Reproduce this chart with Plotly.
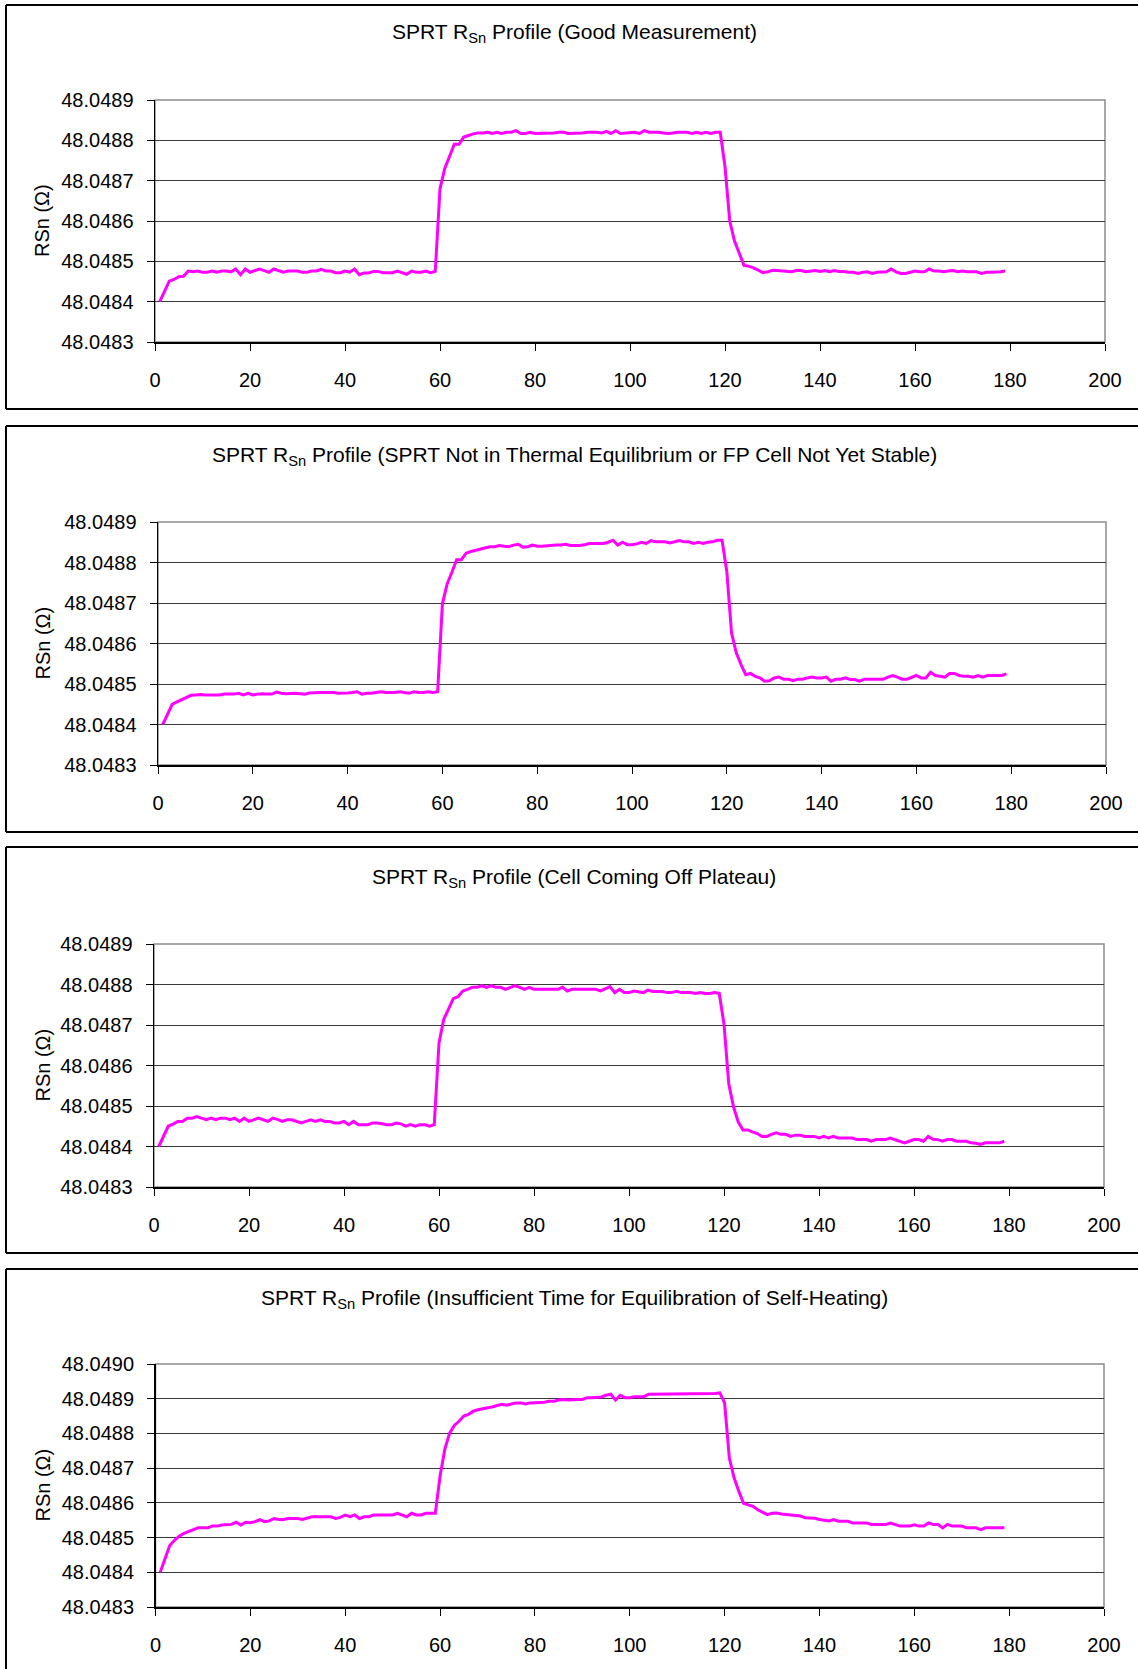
import plotly.graph_objects as go

W, H = 1138, 1669

# ---------------- data ----------------
time_index = list(range(1, 180))

titles = [
    "SPRT R<sub>Sn</sub> Profile (Good Measurement)",
    "SPRT R<sub>Sn</sub> Profile (SPRT Not in Thermal Equilibrium or FP Cell Not Yet Stable)",
    "SPRT R<sub>Sn</sub> Profile (Cell Coming Off Plateau)",
    "SPRT R<sub>Sn</sub> Profile (Insufficient Time for Equilibration of Self-Heating)",
]

y_label = "RSn (Ω)"

x_ticks = [0, 20, 40, 60, 80, 100, 120, 140, 160, 180, 200]
y_ticks_a = [48.0483, 48.0484, 48.0485, 48.0486, 48.0487, 48.0488, 48.0489]
y_ticks_b = [48.0483, 48.0484, 48.0485, 48.0486, 48.0487, 48.0488, 48.0489, 48.0490]

rsn_good = [
    48.048400, 48.048426, 48.048451, 48.048455, 48.048462, 48.048463, 48.048476, 48.048474, 48.048476, 48.048473,
    48.048473, 48.048476, 48.048473, 48.048476, 48.048476, 48.048474, 48.048481, 48.048467, 48.048481, 48.048473,
    48.048477, 48.048481, 48.048477, 48.048473, 48.048481, 48.048477, 48.048473, 48.048476, 48.048476, 48.048476,
    48.048473, 48.048473, 48.048476, 48.048476, 48.048480, 48.048476, 48.048476, 48.048472, 48.048472, 48.048476,
    48.048473, 48.048481, 48.048467, 48.048471, 48.048471, 48.048475, 48.048475, 48.048472, 48.048472, 48.048472,
    48.048476, 48.048472, 48.048468, 48.048476, 48.048473, 48.048473, 48.048476, 48.048472, 48.048475, 48.048680,
    48.048730, 48.048760, 48.048790, 48.048790, 48.048808, 48.048812, 48.048816, 48.048818, 48.048818, 48.048820,
    48.048817, 48.048820, 48.048817, 48.048820, 48.048820, 48.048824, 48.048817, 48.048817, 48.048820, 48.048817,
    48.048817, 48.048817, 48.048817, 48.048818, 48.048820, 48.048820, 48.048817, 48.048817, 48.048817, 48.048818,
    48.048820, 48.048820, 48.048820, 48.048818, 48.048822, 48.048817, 48.048824, 48.048817, 48.048818, 48.048820,
    48.048820, 48.048817, 48.048824, 48.048820, 48.048820, 48.048820, 48.048818, 48.048817, 48.048818, 48.048820,
    48.048820, 48.048820, 48.048817, 48.048820, 48.048817, 48.048820, 48.048817, 48.048820, 48.048820, 48.048735,
    48.048600, 48.048550, 48.048520, 48.048490, 48.048488, 48.048484, 48.048478, 48.048472, 48.048474, 48.048478,
    48.048477, 48.048476, 48.048476, 48.048474, 48.048477, 48.048477, 48.048474, 48.048476, 48.048477, 48.048475,
    48.048477, 48.048474, 48.048477, 48.048475, 48.048475, 48.048473, 48.048473, 48.048470, 48.048473, 48.048474,
    48.048470, 48.048473, 48.048474, 48.048474, 48.048481, 48.048474, 48.048470, 48.048470, 48.048473, 48.048476,
    48.048474, 48.048474, 48.048481, 48.048476, 48.048476, 48.048474, 48.048476, 48.048477, 48.048474, 48.048476,
    48.048474, 48.048474, 48.048474, 48.048470, 48.048473, 48.048473, 48.048473, 48.048474, 48.048476,
]

rsn_not_equilibrium = [
    48.048400, 48.048425, 48.048450, 48.048456, 48.048462, 48.048466, 48.048472, 48.048473, 48.048474, 48.048473,
    48.048473, 48.048474, 48.048473, 48.048475, 48.048475, 48.048475, 48.048477, 48.048473, 48.048477, 48.048473,
    48.048475, 48.048476, 48.048475, 48.048475, 48.048480, 48.048477, 48.048476, 48.048477, 48.048477, 48.048476,
    48.048475, 48.048478, 48.048479, 48.048479, 48.048479, 48.048479, 48.048479, 48.048477, 48.048477, 48.048478,
    48.048479, 48.048481, 48.048475, 48.048477, 48.048477, 48.048479, 48.048481, 48.048479, 48.048479, 48.048479,
    48.048481, 48.048479, 48.048477, 48.048481, 48.048479, 48.048479, 48.048481, 48.048479, 48.048481, 48.048698,
    48.048747, 48.048776, 48.048807, 48.048807, 48.048823, 48.048827, 48.048830, 48.048833, 48.048835, 48.048839,
    48.048839, 48.048842, 48.048840, 48.048839, 48.048843, 48.048845, 48.048838, 48.048839, 48.048843, 48.048840,
    48.048840, 48.048841, 48.048843, 48.048843, 48.048843, 48.048845, 48.048842, 48.048842, 48.048842, 48.048844,
    48.048847, 48.048847, 48.048847, 48.048847, 48.048850, 48.048855, 48.048843, 48.048850, 48.048844, 48.048844,
    48.048846, 48.048850, 48.048847, 48.048854, 48.048851, 48.048851, 48.048851, 48.048848, 48.048851, 48.048854,
    48.048851, 48.048851, 48.048847, 48.048850, 48.048847, 48.048850, 48.048851, 48.048855, 48.048855, 48.048778,
    48.048626, 48.048577, 48.048548, 48.048523, 48.048526, 48.048519, 48.048515, 48.048507, 48.048508, 48.048515,
    48.048517, 48.048512, 48.048512, 48.048508, 48.048512, 48.048512, 48.048515, 48.048517, 48.048515, 48.048515,
    48.048517, 48.048507, 48.048512, 48.048512, 48.048515, 48.048511, 48.048511, 48.048507, 48.048512, 48.048512,
    48.048512, 48.048512, 48.048512, 48.048517, 48.048521, 48.048517, 48.048512, 48.048512, 48.048517, 48.048521,
    48.048515, 48.048515, 48.048529, 48.048521, 48.048519, 48.048517, 48.048526, 48.048526, 48.048521, 48.048519,
    48.048519, 48.048517, 48.048521, 48.048517, 48.048521, 48.048521, 48.048521, 48.048521, 48.048525,
]

rsn_off_plateau = [
    48.048400, 48.048426, 48.048450, 48.048455, 48.048462, 48.048462, 48.048470, 48.048470, 48.048474, 48.048470,
    48.048466, 48.048470, 48.048466, 48.048470, 48.048470, 48.048466, 48.048470, 48.048462, 48.048470, 48.048462,
    48.048466, 48.048470, 48.048466, 48.048462, 48.048470, 48.048467, 48.048462, 48.048466, 48.048466, 48.048462,
    48.048458, 48.048462, 48.048466, 48.048462, 48.048466, 48.048462, 48.048462, 48.048458, 48.048458, 48.048462,
    48.048454, 48.048462, 48.048454, 48.048454, 48.048454, 48.048458, 48.048458, 48.048456, 48.048454, 48.048454,
    48.048458, 48.048456, 48.048450, 48.048454, 48.048450, 48.048454, 48.048454, 48.048450, 48.048454, 48.048656,
    48.048714, 48.048739, 48.048765, 48.048770, 48.048784, 48.048788, 48.048793, 48.048793, 48.048797, 48.048793,
    48.048797, 48.048793, 48.048793, 48.048788, 48.048793, 48.048797, 48.048793, 48.048788, 48.048793, 48.048788,
    48.048788, 48.048788, 48.048788, 48.048788, 48.048788, 48.048793, 48.048784, 48.048788, 48.048788, 48.048788,
    48.048788, 48.048788, 48.048788, 48.048784, 48.048790, 48.048795, 48.048780, 48.048788, 48.048780, 48.048780,
    48.048784, 48.048782, 48.048780, 48.048786, 48.048783, 48.048783, 48.048783, 48.048780, 48.048780, 48.048783,
    48.048780, 48.048780, 48.048780, 48.048778, 48.048780, 48.048778, 48.048778, 48.048780, 48.048778, 48.048702,
    48.048555, 48.048498, 48.048460, 48.048441, 48.048441, 48.048436, 48.048432, 48.048425, 48.048425, 48.048430,
    48.048434, 48.048430, 48.048430, 48.048425, 48.048428, 48.048428, 48.048425, 48.048425, 48.048425, 48.048421,
    48.048425, 48.048421, 48.048425, 48.048421, 48.048421, 48.048421, 48.048421, 48.048417, 48.048417, 48.048417,
    48.048413, 48.048417, 48.048417, 48.048417, 48.048421, 48.048417, 48.048412, 48.048409, 48.048413, 48.048417,
    48.048417, 48.048413, 48.048425, 48.048418, 48.048417, 48.048413, 48.048417, 48.048417, 48.048413, 48.048413,
    48.048413, 48.048409, 48.048408, 48.048405, 48.048409, 48.048409, 48.048409, 48.048409, 48.048413,
]

rsn_self_heating = [
    48.048400, 48.048440, 48.048477, 48.048492, 48.048504, 48.048512, 48.048518, 48.048523, 48.048528, 48.048528,
    48.048528, 48.048533, 48.048533, 48.048536, 48.048538, 48.048538, 48.048544, 48.048536, 48.048544, 48.048543,
    48.048546, 48.048552, 48.048546, 48.048548, 48.048555, 48.048552, 48.048552, 48.048555, 48.048555, 48.048555,
    48.048552, 48.048556, 48.048560, 48.048560, 48.048560, 48.048560, 48.048560, 48.048555, 48.048558, 48.048565,
    48.048560, 48.048565, 48.048555, 48.048560, 48.048560, 48.048565, 48.048565, 48.048565, 48.048565, 48.048565,
    48.048570, 48.048565, 48.048560, 48.048570, 48.048565, 48.048565, 48.048570, 48.048570, 48.048570, 48.048677,
    48.048754, 48.048800, 48.048823, 48.048835, 48.048850, 48.048855, 48.048864, 48.048868, 48.048872, 48.048874,
    48.048876, 48.048879, 48.048884, 48.048881, 48.048885, 48.048888, 48.048888, 48.048885, 48.048888, 48.048888,
    48.048888, 48.048890, 48.048893, 48.048893, 48.048896, 48.048898, 48.048896, 48.048898, 48.048898, 48.048898,
    48.048903, 48.048903, 48.048903, 48.048905, 48.048910, 48.048913, 48.048896, 48.048910, 48.048903, 48.048903,
    48.048906, 48.048906, 48.048906, 48.048913, 48.048913, 48.048913, 48.048913, 48.048913, 48.048913, 48.048915,
    48.048913, 48.048913, 48.048913, 48.048913, 48.048913, 48.048915, 48.048913, 48.048915, 48.048917, 48.048888,
    48.048729, 48.048672, 48.048633, 48.048599, 48.048594, 48.048590, 48.048580, 48.048572, 48.048566, 48.048570,
    48.048571, 48.048568, 48.048566, 48.048564, 48.048563, 48.048562, 48.048557, 48.048557, 48.048556, 48.048552,
    48.048550, 48.048548, 48.048552, 48.048547, 48.048547, 48.048547, 48.048542, 48.048542, 48.048542, 48.048542,
    48.048538, 48.048538, 48.048538, 48.048538, 48.048542, 48.048538, 48.048533, 48.048533, 48.048533, 48.048537,
    48.048533, 48.048533, 48.048542, 48.048538, 48.048538, 48.048528, 48.048538, 48.048533, 48.048533, 48.048533,
    48.048528, 48.048528, 48.048528, 48.048523, 48.048528, 48.048528, 48.048528, 48.048528, 48.048528,
]

series = [rsn_good, rsn_not_equilibrium, rsn_off_plateau, rsn_self_heating]
y_tick_sets = [y_ticks_a, y_ticks_a, y_ticks_a, y_ticks_b]

# ---------------- layout (pixel geometry) ----------------
plot_px = [
    (155, 1105, 100, 342),
    (158, 1106, 522, 765),
    (154, 1104, 944, 1187),
    (155.5, 1104, 1364, 1607),
]
# outer frames: (top, bottom or None when it runs off the page)
box_px = [(5, 409), (426, 832), (847, 1253), (1269, None)]
box_left_px = 6
title_y_px = [33, 456, 878, 1299]
title_x_px = 574
ylabel_x_px = 42

FONT = "Liberation Sans, Arial, sans-serif"
LINE_COLOR = "#FF00FF"


def px_x(v):
    return v / W


def px_y(v):
    return 1 - v / H


def frame_line(x0, y0, x1, y1):
    return dict(type="line", xref="paper", yref="paper",
                x0=px_x(x0), x1=px_x(x1), y0=px_y(y0), y1=px_y(y1),
                line=dict(color="black", width=2))


fig = go.Figure()
layout = dict(
    width=W, height=H, margin=dict(l=0, r=0, t=0, b=0, pad=0, autoexpand=False),
    paper_bgcolor="white", plot_bgcolor="white",
    showlegend=False, font=dict(family=FONT, color="black", size=20),
)
shapes = []
annotations = []

for i in range(4):
    n = i + 1
    xa = "x" if n == 1 else f"x{n}"
    ya = "y" if n == 1 else f"y{n}"
    l, r, t, b = plot_px[i]
    yt = y_tick_sets[i]
    fig.add_trace(go.Scatter(
        x=time_index, y=series[i], mode="lines",
        line=dict(color=LINE_COLOR, width=3),
        xaxis=xa, yaxis=ya, hoverinfo="skip",
    ))
    layout[f"xaxis{n if n > 1 else ''}"] = dict(
        domain=[px_x(l), px_x(r)], range=[0, 200], anchor=ya, automargin=False,
        tickvals=x_ticks, ticks="outside", ticklen=7, tickwidth=1, tickcolor="black",
        showline=True, linecolor="black", linewidth=1.5,
        showgrid=False, zeroline=False, ticklabelstandoff=12,
        tickfont=dict(family=FONT, size=20, color="black"),
    )
    layout[f"yaxis{n if n > 1 else ''}"] = dict(
        domain=[px_y(b), px_y(t)], range=[yt[0], yt[-1]], anchor=xa, automargin=False,
        tickvals=yt, ticktext=[f"{v:.4f}" for v in yt],
        ticks="outside", ticklen=7, tickwidth=1, tickcolor="black",
        showline=True, linecolor="black", linewidth=1.5,
        showgrid=True, gridcolor="#3a3a3a", gridwidth=1, zeroline=False,
        ticklabelstandoff=9,
        tickfont=dict(family=FONT, size=20, color="black"),
    )
    shapes.append(dict(
        type="rect", xref=f"{xa} domain", yref=f"{ya} domain",
        x0=0, x1=1, y0=0, y1=1, line=dict(color="#8c8c8c", width=1.5),
        layer="below",
    ))
    bt, bb = box_px[i]
    shapes.append(frame_line(box_left_px, bt, W, bt))
    if bb is None:
        shapes.append(frame_line(box_left_px, bt, box_left_px, H))
    else:
        shapes.append(frame_line(box_left_px, bt, box_left_px, bb))
        shapes.append(frame_line(box_left_px, bb, W, bb))
    annotations.append(dict(
        text=titles[i], xref="paper", yref="paper",
        x=px_x(title_x_px), y=px_y(title_y_px[i]),
        xanchor="center", yanchor="middle", showarrow=False,
        font=dict(family=FONT, size=21, color="black"),
    ))
    annotations.append(dict(
        text=y_label, xref="paper", yref="paper",
        x=px_x(ylabel_x_px), y=px_y((t + b) / 2),
        xanchor="center", yanchor="middle", showarrow=False, textangle=-90,
        font=dict(family=FONT, size=20, color="black"),
    ))

layout["shapes"] = shapes
layout["annotations"] = annotations
fig.update_layout(**layout)
fig.write_html(
    "out.html",
    config={"displayModeBar": False, "staticPlot": True},
    post_script="document.body.style.margin='0';document.body.style.overflow='hidden';",
)
